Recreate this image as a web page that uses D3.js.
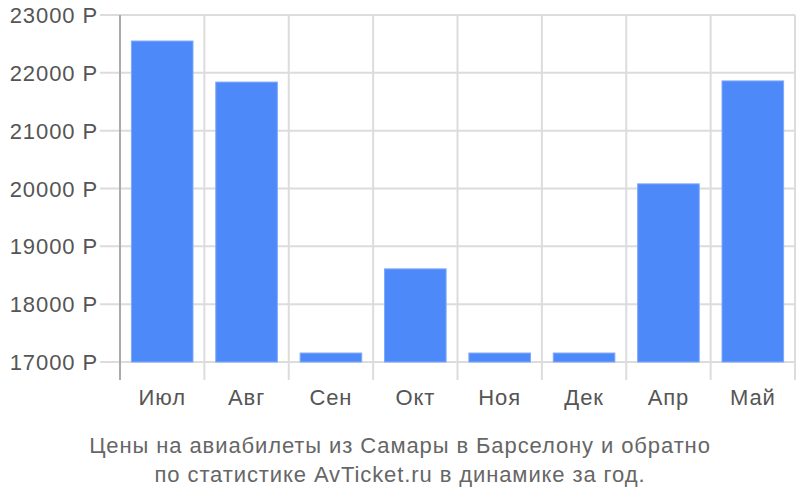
<!DOCTYPE html>
<html>
<head>
<meta charset="utf-8">
<script src="https://cdn.jsdelivr.net/npm/d3@7"></script>
<style>
  body { margin: 0; background: #fff; }
  text { font-family: "Liberation Sans", Arial, sans-serif; letter-spacing: 0.9px; }
</style>
</head>
<body>
<svg id="chart"></svg>
<script>
const width = 800;
const height = 500;

// data
const months = ["Июл", "Авг", "Сен", "Окт", "Ноя", "Дек", "Апр", "Май"];
const prices = [22550, 21840, 17155, 18610, 17155, 17155, 20080, 21860];
const yTicks = [17000, 18000, 19000, 20000, 21000, 22000, 23000];
const titleLines = [
    "Цены на авиабилеты из Самары в Барселону и обратно",
    "по статистике AvTicket.ru в динамике за год."
];

const svg = d3.select("#chart")
    .attr("width", width)
    .attr("height", height);

const plotLeft = 120, plotRight = 795, plotTop = 15, plotBottom = 362;

const x = d3.scaleBand()
    .domain(months)
    .range([plotLeft, plotRight]);

const y = d3.scaleLinear()
    .domain([17000, 23000])
    .range([plotBottom, plotTop]);

// horizontal grid + tick stubs
svg.selectAll("line.hgrid")
    .data(yTicks)
    .enter()
    .append("line")
    .attr("class", "hgrid")
    .attr("x1", 100)
    .attr("x2", plotRight)
    .attr("y1", d => y(d))
    .attr("y2", d => y(d))
    .attr("stroke", "#dcdcdc")
    .attr("stroke-width", 2);

// vertical grid lines at band edges
const edges = months.map(m => x(m)).concat([plotRight]);
svg.selectAll("line.vgrid")
    .data(edges)
    .enter()
    .append("line")
    .attr("class", "vgrid")
    .attr("x1", d => d)
    .attr("x2", d => d)
    .attr("y1", plotTop)
    .attr("y2", 380)
    .attr("stroke", (d, i) => i === 0 ? "#aaa" : "#dcdcdc")
    .attr("stroke-width", 2);

// bars
const inset = x.bandwidth() * 0.135;
svg.selectAll("rect.bar")
    .data(prices)
    .enter()
    .append("rect")
    .attr("class", "bar")
    .attr("x", (d, i) => x(months[i]) + inset)
    .attr("width", x.bandwidth() - 2 * inset)
    .attr("y", d => y(d))
    .attr("height", d => y(17000) - y(d))
    .attr("fill", "#4d89f9")
    .attr("stroke", "#7ea9fb")
    .attr("stroke-width", 1);

// y labels
svg.selectAll("text.ylab")
    .data(yTicks)
    .enter()
    .append("text")
    .attr("class", "ylab")
    .attr("x", 98)
    .attr("y", d => y(d) + 8)
    .attr("text-anchor", "end")
    .attr("font-size", 22)
    .attr("fill", "#555")
    .text(d => d + " Р");

// x labels
svg.selectAll("text.xlab")
    .data(months)
    .enter()
    .append("text")
    .attr("class", "xlab")
    .attr("x", d => x(d) + x.bandwidth() / 2)
    .attr("y", 405)
    .attr("text-anchor", "middle")
    .attr("font-size", 22)
    .attr("fill", "#555")
    .text(d => d);

// caption
svg.selectAll("text.title")
    .data(titleLines)
    .enter()
    .append("text")
    .attr("class", "title")
    .attr("x", 400)
    .attr("y", (d, i) => 453 + i * 29)
    .attr("text-anchor", "middle")
    .attr("font-size", 22)
    .attr("fill", "#666")
    .text(d => d);
</script>
</body>
</html>
